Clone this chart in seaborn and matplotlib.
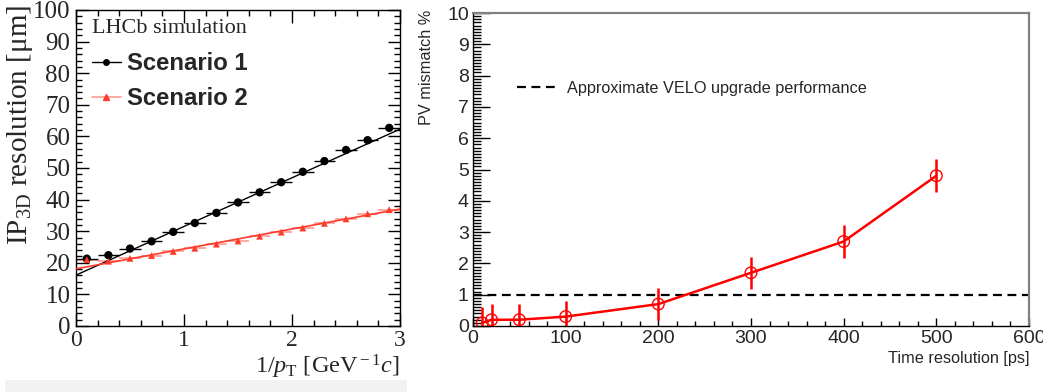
import numpy as np
import pandas as pd
import seaborn as sns
import matplotlib
matplotlib.use("Agg")
import matplotlib.pyplot as plt
from matplotlib.lines import Line2D
from matplotlib.ticker import MultipleLocator
from matplotlib.patches import Rectangle

# ---------------- data: left panel ----------------
inv_pt = [0.1, 0.3, 0.5, 0.7, 0.9, 1.1, 1.3, 1.5, 1.7, 1.9, 2.1, 2.3, 2.5, 2.7, 2.9]
inv_pt_halfwidth = [0.1] * 15
scenario1 = [21.3, 22.4, 24.5, 26.8, 29.8, 32.6, 35.8, 39.1, 42.3, 45.5, 48.8, 52.2, 55.7, 58.8, 62.7]
scenario2 = [21.0, 20.5, 21.4, 22.3, 23.6, 24.6, 25.9, 26.9, 28.4, 29.7, 31.0, 32.5, 33.9, 35.5, 36.8]
fit_x = [0.0, 3.0]
fit1_y = [16.1, 62.3]
fit2_y = [18.1, 37.0]

# ---------------- data: right panel ----------------
time_res = [10, 20, 50, 100, 200, 300, 400, 500]
mismatch = [0.1, 0.2, 0.2, 0.3, 0.7, 1.7, 2.7, 4.8]
mismatch_err = [0.5, 0.5, 0.5, 0.5, 0.5, 0.52, 0.53, 0.52]
velo_x = [0, 600]
velo_y = [1.0, 1.0]

df1 = pd.DataFrame({"x": inv_pt, "y": scenario1, "s": "Scenario 1"})
df2 = pd.DataFrame({"x": inv_pt, "y": scenario2, "s": "Scenario 2"})
dfit1 = pd.DataFrame({"x": fit_x, "y": fit1_y})
dfit2 = pd.DataFrame({"x": fit_x, "y": fit2_y})
dr = pd.DataFrame({"t": time_res, "m": mismatch, "e": mismatch_err})
dv = pd.DataFrame({"t": velo_x, "m": velo_y})

sns.set_theme(style="ticks")
plt.rcParams["font.family"] = ["Liberation Sans", "DejaVu Sans"]
plt.rcParams["mathtext.fontset"] = "custom"
plt.rcParams["mathtext.rm"] = "Liberation Serif"
plt.rcParams["mathtext.it"] = "Liberation Serif:italic"
plt.rcParams["mathtext.bf"] = "Liberation Serif:bold"

W, H = 1043, 392
fig = plt.figure(figsize=(W / 100, H / 100), dpi=100)
fig.patch.set_facecolor("white")
fig.patches.append(Rectangle((5 / W, 0), 402 / W, 12 / H, transform=fig.transFigure,
                             facecolor="#f2f2f2", edgecolor="none", zorder=0))

ax1 = fig.add_axes([76 / W, 1 - 326 / H, 324 / W, 316 / H])
ax2 = fig.add_axes([473 / W, 1 - 326 / H, 556 / W, 313 / H])

RED = "#ff3a2a"
PINK = "#ff9a90"

# ---------- left panel ----------
sns.lineplot(data=dfit1, x="x", y="y", ax=ax1, color="black", lw=1.0, zorder=3)
sns.lineplot(data=dfit2, x="x", y="y", ax=ax1, color=RED, lw=1.2, zorder=3)
ax1.errorbar(inv_pt, scenario2, xerr=inv_pt_halfwidth, fmt="none", ecolor=PINK, elinewidth=1.2, zorder=2)
ax1.errorbar(inv_pt, scenario1, xerr=inv_pt_halfwidth, fmt="none", ecolor="black", elinewidth=1.0, zorder=4)
sns.scatterplot(data=df1, x="x", y="y", ax=ax1, color="black", marker="o", s=36,
                edgecolor="none", zorder=5, legend=False)
sns.scatterplot(data=df2, x="x", y="y", ax=ax1, color=RED, marker="^", s=24,
                edgecolor="none", zorder=5, legend=False)

ax1.set_xlim(0, 3)
ax1.set_ylim(0, 100)
ax1.xaxis.set_major_locator(MultipleLocator(1))
ax1.xaxis.set_minor_locator(MultipleLocator(0.2))
ax1.yaxis.set_major_locator(MultipleLocator(10))
ax1.yaxis.set_minor_locator(MultipleLocator(2))
ax1.tick_params(which="both", direction="in", top=True, right=True, color="black", width=1.0)
ax1.tick_params(which="major", length=9)
ax1.tick_params(axis="y", which="major", labelsize=18, pad=4)
ax1.tick_params(axis="x", which="major", labelsize=17, pad=3)
ax1.tick_params(which="minor", length=4.5)
for lab in ax1.get_xticklabels() + ax1.get_yticklabels():
    lab.set_family("Liberation Serif")
for sp in ax1.spines.values():
    sp.set_color("black")
    sp.set_linewidth(1.0)

ax1.set_xlabel(r"1/$p_{\rm T}$ [GeV$^{\rm -1}$$c$]", fontsize=17.5, family="Liberation Serif", loc="right")
ax1.xaxis.set_label_coords(1.0, -0.086)
ax1.set_ylabel(r"IP$_{\rm 3D}$ resolution [μm]", fontsize=21, family="Liberation Serif", loc="top")
ax1.yaxis.set_label_coords(-0.125, 1.016)

ax1.text(0.05, 0.943, "LHCb simulation", transform=ax1.transAxes, fontsize=16,
         family="Liberation Serif", va="center", ha="left")
h1 = Line2D([], [], color="black", lw=1.0, marker="o", markersize=4)
h2 = Line2D([], [], color=PINK, lw=1.2, marker="^", markersize=4,
            markerfacecolor=RED, markeredgecolor=RED)
leg1 = ax1.legend([h1, h2], ["Scenario 1", "Scenario 2"], loc="center left",
                  bbox_to_anchor=(92 / W, 1 - 81 / H), bbox_transform=fig.transFigure,
                  frameon=False, borderpad=0, borderaxespad=0, handlelength=1.2,
                  handletextpad=0.25, labelspacing=0.5,
                  prop={"family": "Liberation Sans", "weight": "bold", "size": 17.2})

# ---------- right panel ----------
sns.lineplot(data=dv, x="t", y="m", ax=ax2, color="black", lw=1.6, zorder=2)
ax2.lines[-1].set_dashes([4, 2.5])
sns.lineplot(data=dr, x="t", y="m", ax=ax2, color="red", lw=1.8, zorder=3)
ax2.errorbar(time_res, mismatch, yerr=mismatch_err, fmt="none", ecolor="red", elinewidth=1.8, zorder=3)
sns.scatterplot(data=dr, x="t", y="m", ax=ax2, marker="o", s=70, facecolor="none",
                edgecolor="red", linewidth=1.0, zorder=4, legend=False)

ax2.set_xlim(0, 600)
ax2.set_ylim(0, 10)
ax2.xaxis.set_major_locator(MultipleLocator(100))
ax2.xaxis.set_minor_locator(MultipleLocator(20))
ax2.yaxis.set_major_locator(MultipleLocator(1))
ax2.yaxis.set_minor_locator(MultipleLocator(0.1))
ax2.tick_params(which="both", direction="in", top=False, right=False, color="black", width=1.0)
ax2.tick_params(axis="y", which="major", length=12, labelsize=14, pad=3)
ax2.tick_params(axis="y", which="minor", length=6)
ax2.tick_params(axis="x", which="major", length=6, labelsize=14, pad=3)
ax2.tick_params(axis="x", which="minor", length=3.5)
for name, sp in ax2.spines.items():
    if name in ("top", "right"):
        sp.set_color("#808080")
        sp.set_linewidth(1.6)
    else:
        sp.set_color("black")
        sp.set_linewidth(1.0)

ax2.set_xlabel("Time resolution [ps]", fontsize=11.7, loc="right")
ax2.xaxis.set_label_coords(1.0, -0.08)
ax2.set_ylabel("PV mismatch %", fontsize=11.7, loc="top")
ax2.yaxis.set_label_coords(-0.07, 1.01)

hv = Line2D([], [], color="black", lw=1.6, dashes=[4, 2.5])
ax2.legend([hv], ["Approximate VELO upgrade performance"], loc="center left",
           bbox_to_anchor=(517 / W, 1 - 88 / H), bbox_transform=fig.transFigure,
           frameon=False, borderpad=0, borderaxespad=0, handlelength=2.4,
           handletextpad=0.65, prop={"family": "Liberation Sans", "size": 11.7})

fig.savefig("out.png", dpi=100, facecolor="white")
